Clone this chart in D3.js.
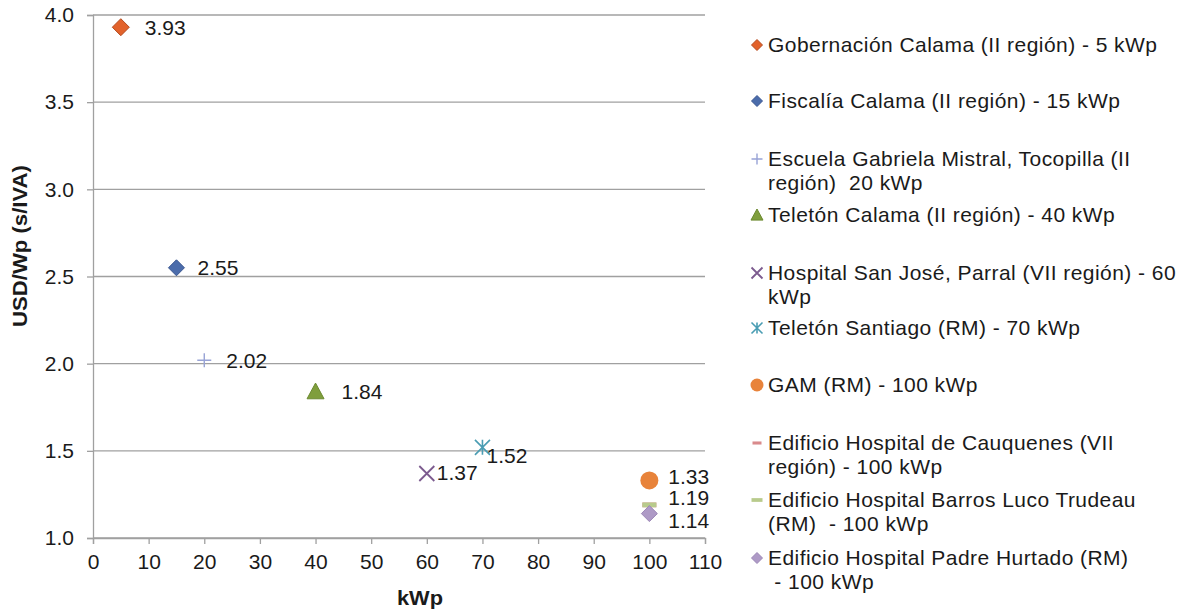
<!DOCTYPE html>
<html>
<head>
<meta charset="utf-8">
<script src="https://cdn.jsdelivr.net/npm/d3@7"></script>
<style>
  body { margin: 0; background: #fff; }
  svg { display: block; font-family: "Liberation Sans", Arial, sans-serif; }
  .legend text { white-space: pre; }
</style>
</head>
<body>
<svg id="chart" width="1180" height="611"></svg>
<script>
// Installations: name, size (kWp) and cost (USD/Wp without VAT)
const names = [
  ["Gobernación Calama (II región) - 5 kWp"],
  ["Fiscalía Calama (II región) - 15 kWp"],
  ["Escuela Gabriela Mistral, Tocopilla (II", "región)  20 kWp"],
  ["Teletón Calama (II región) - 40 kWp"],
  ["Hospital San José, Parral (VII región) - 60", "kWp"],
  ["Teletón Santiago (RM) - 70 kWp"],
  ["GAM (RM) - 100 kWp"],
  ["Edificio Hospital de Cauquenes (VII", "región) - 100 kWp"],
  ["Edificio Hospital Barros Luco Trudeau", "(RM)  - 100 kWp"],
  ["Edificio Hospital Padre Hurtado (RM)", " - 100 kWp"]
];
const kwp  = [5, 15, 20, 40, 60, 70, 100, 100, 100, 100];
const cost = [3.93, 2.55, 2.02, 1.84, 1.37, 1.52, 1.33, 1.19, 1.19, 1.14];
const showLabel = [true, true, true, true, true, true, true, false, true, true];

const xTicks = d3.range(0, 111, 10);
const yTicks = [1.0, 1.5, 2.0, 2.5, 3.0, 3.5, 4.0];

// Marker styling per series
const shapes = ["diamond", "diamond", "plus", "triangle", "cross", "asterisk", "circle", "dash", "dash", "diamond"];
const fills  = ["#E2622B", "#4B6CAB", "#98A3D6", "#7F9E3C", "#7C5B8F", "#4A9DB3", "#E8833A", "#D98A8C", "#B8CB8C", "#AE9AC6"];
const strokes= ["#B44A1E", "#3A5690", "#98A3D6", "#6C8A30", "#7C5B8F", "#4A9DB3", "#E8833A", "#D98A8C", "#B8CB8C", "#9C87B6"];
// Value label offsets relative to each marker [dx, dy]
const labelOffsets = [[24,0],[21,0],[22,0],[26,0],[10,-1],[4,8],[19,-4],[19,-7],[19,-7],[19,7]];

const svg = d3.select("#chart");
const fontFamily = "'Liberation Sans', Arial, sans-serif";

const x = d3.scaleLinear().domain([0, 110]).range([93, 705]);
const y = d3.scaleLinear().domain([1.0, 4.0]).range([538, 15]);

const gridColor = "#A0A0A0";
const textColor = "#1a1a1a";

// Horizontal gridlines
svg.append("g")
  .selectAll("line")
  .data(yTicks)
  .join("line")
  .attr("x1", x(0)).attr("x2", x(110))
  .attr("y1", d => y(d)).attr("y2", d => y(d))
  .attr("stroke", gridColor).attr("stroke-width", 1.3);

// Y axis
const yAxis = svg.append("g")
  .attr("transform", `translate(${x(0)},0)`)
  .call(d3.axisLeft(y).tickValues(yTicks).tickFormat(d3.format(".1f")).tickSize(6).tickPadding(13));
// X axis
const xAxis = svg.append("g")
  .attr("transform", `translate(0,${y(1.0)})`)
  .call(d3.axisBottom(x).tickValues(xTicks).tickSize(6).tickPadding(10));

[yAxis, xAxis].forEach(g => {
  g.select(".domain").attr("stroke", gridColor).attr("stroke-width", 1.3);
  g.selectAll(".tick line").attr("stroke", gridColor).attr("stroke-width", 1.3);
  g.selectAll(".tick text").attr("fill", textColor).style("font-size", "21px")
    .style("font-family", fontFamily);
});

// Axis titles
svg.append("text")
  .attr("x", 420).attr("y", 605)
  .attr("text-anchor", "middle")
  .attr("font-weight", "bold").attr("font-size", 21).attr("fill", textColor)
  .attr("textLength", 46).attr("lengthAdjust", "spacingAndGlyphs")
  .text("kWp");
svg.append("text")
  .attr("transform", `translate(27,246) rotate(-90)`)
  .attr("text-anchor", "middle")
  .attr("font-weight", "bold").attr("font-size", 21).attr("fill", textColor)
  .attr("textLength", 162).attr("lengthAdjust", "spacingAndGlyphs")
  .text("USD/Wp (s/IVA)");

// Draw a marker of the given shape centred on the origin of g
function drawMarker(g, shape, fill, stroke, s) {
  const h = s / 2;
  if (shape === "diamond") {
    g.append("path").attr("d", `M0,${-h}L${h},0L0,${h}L${-h},0Z`)
      .attr("fill", fill).attr("stroke", stroke).attr("stroke-width", 1);
  } else if (shape === "triangle") {
    g.append("path").attr("d", `M0,${-h}L${h},${h * 0.85}L${-h},${h * 0.85}Z`)
      .attr("fill", fill).attr("stroke", stroke).attr("stroke-width", 1);
  } else if (shape === "circle") {
    g.append("circle").attr("r", h).attr("fill", fill);
  } else if (shape === "plus") {
    g.append("path").attr("d", `M${-h},0H${h}M0,${-h}V${h}`)
      .attr("stroke", stroke).attr("stroke-width", 1.4);
  } else if (shape === "cross") {
    g.append("path").attr("d", `M${-h},${-h}L${h},${h}M${h},${-h}L${-h},${h}`)
      .attr("stroke", stroke).attr("stroke-width", 1.8);
  } else if (shape === "asterisk") {
    g.append("path").attr("d", `M${-h},${-h}L${h},${h}M${h},${-h}L${-h},${h}M0,${-h}V${h}`)
      .attr("stroke", stroke).attr("stroke-width", 1.6);
  } else if (shape === "dash") {
    g.append("rect").attr("x", -h).attr("y", -s * 0.17).attr("width", s).attr("height", s * 0.34)
      .attr("fill", fill);
  }
}

const idx = d3.range(kwp.length);
const markerSizes = [17, 16, 14, 17, 15, 15, 18, 14, 14, 16];

// Points, drawn in series order so later ones sit on top
const pts = svg.append("g").selectAll("g").data(idx).join("g")
  .attr("transform", i => `translate(${x(kwp[i])},${y(cost[i])})`);
pts.each(function(i) {
  drawMarker(d3.select(this), shapes[i], fills[i], strokes[i], markerSizes[i]);
});

// Value labels
svg.append("g").selectAll("text").data(idx.filter(i => showLabel[i])).join("text")
  .attr("x", i => x(kwp[i]) + labelOffsets[i][0])
  .attr("y", i => y(cost[i]) + labelOffsets[i][1])
  .attr("dy", "0.35em")
  .attr("font-size", 21).attr("fill", textColor)
  .text(i => cost[i].toFixed(2));

// Legend
const legendRows = [45, 101, 159, 215, 273, 328, 385, 443, 500, 558];
const legendMarkerSizes = [11, 11, 11, 12, 11, 11, 13, 9, 11, 11];
const lg = svg.append("g").attr("class", "legend").selectAll("g").data(idx).join("g")
  .attr("transform", i => `translate(0,${legendRows[i]})`);
lg.each(function(i) {
  const g = d3.select(this);
  const m = g.append("g").attr("transform", "translate(757,0)");
  drawMarker(m, shapes[i], fills[i], strokes[i], legendMarkerSizes[i]);
  const t = g.append("text").attr("x", 768)
    .attr("font-size", 21).attr("letter-spacing", "0.45px").attr("fill", textColor);
  names[i].forEach((line, k) => {
    t.append("tspan").attr("x", 768).attr("dy", k === 0 ? "0.35em" : "24px").text(line);
  });
});
</script>
</body>
</html>
